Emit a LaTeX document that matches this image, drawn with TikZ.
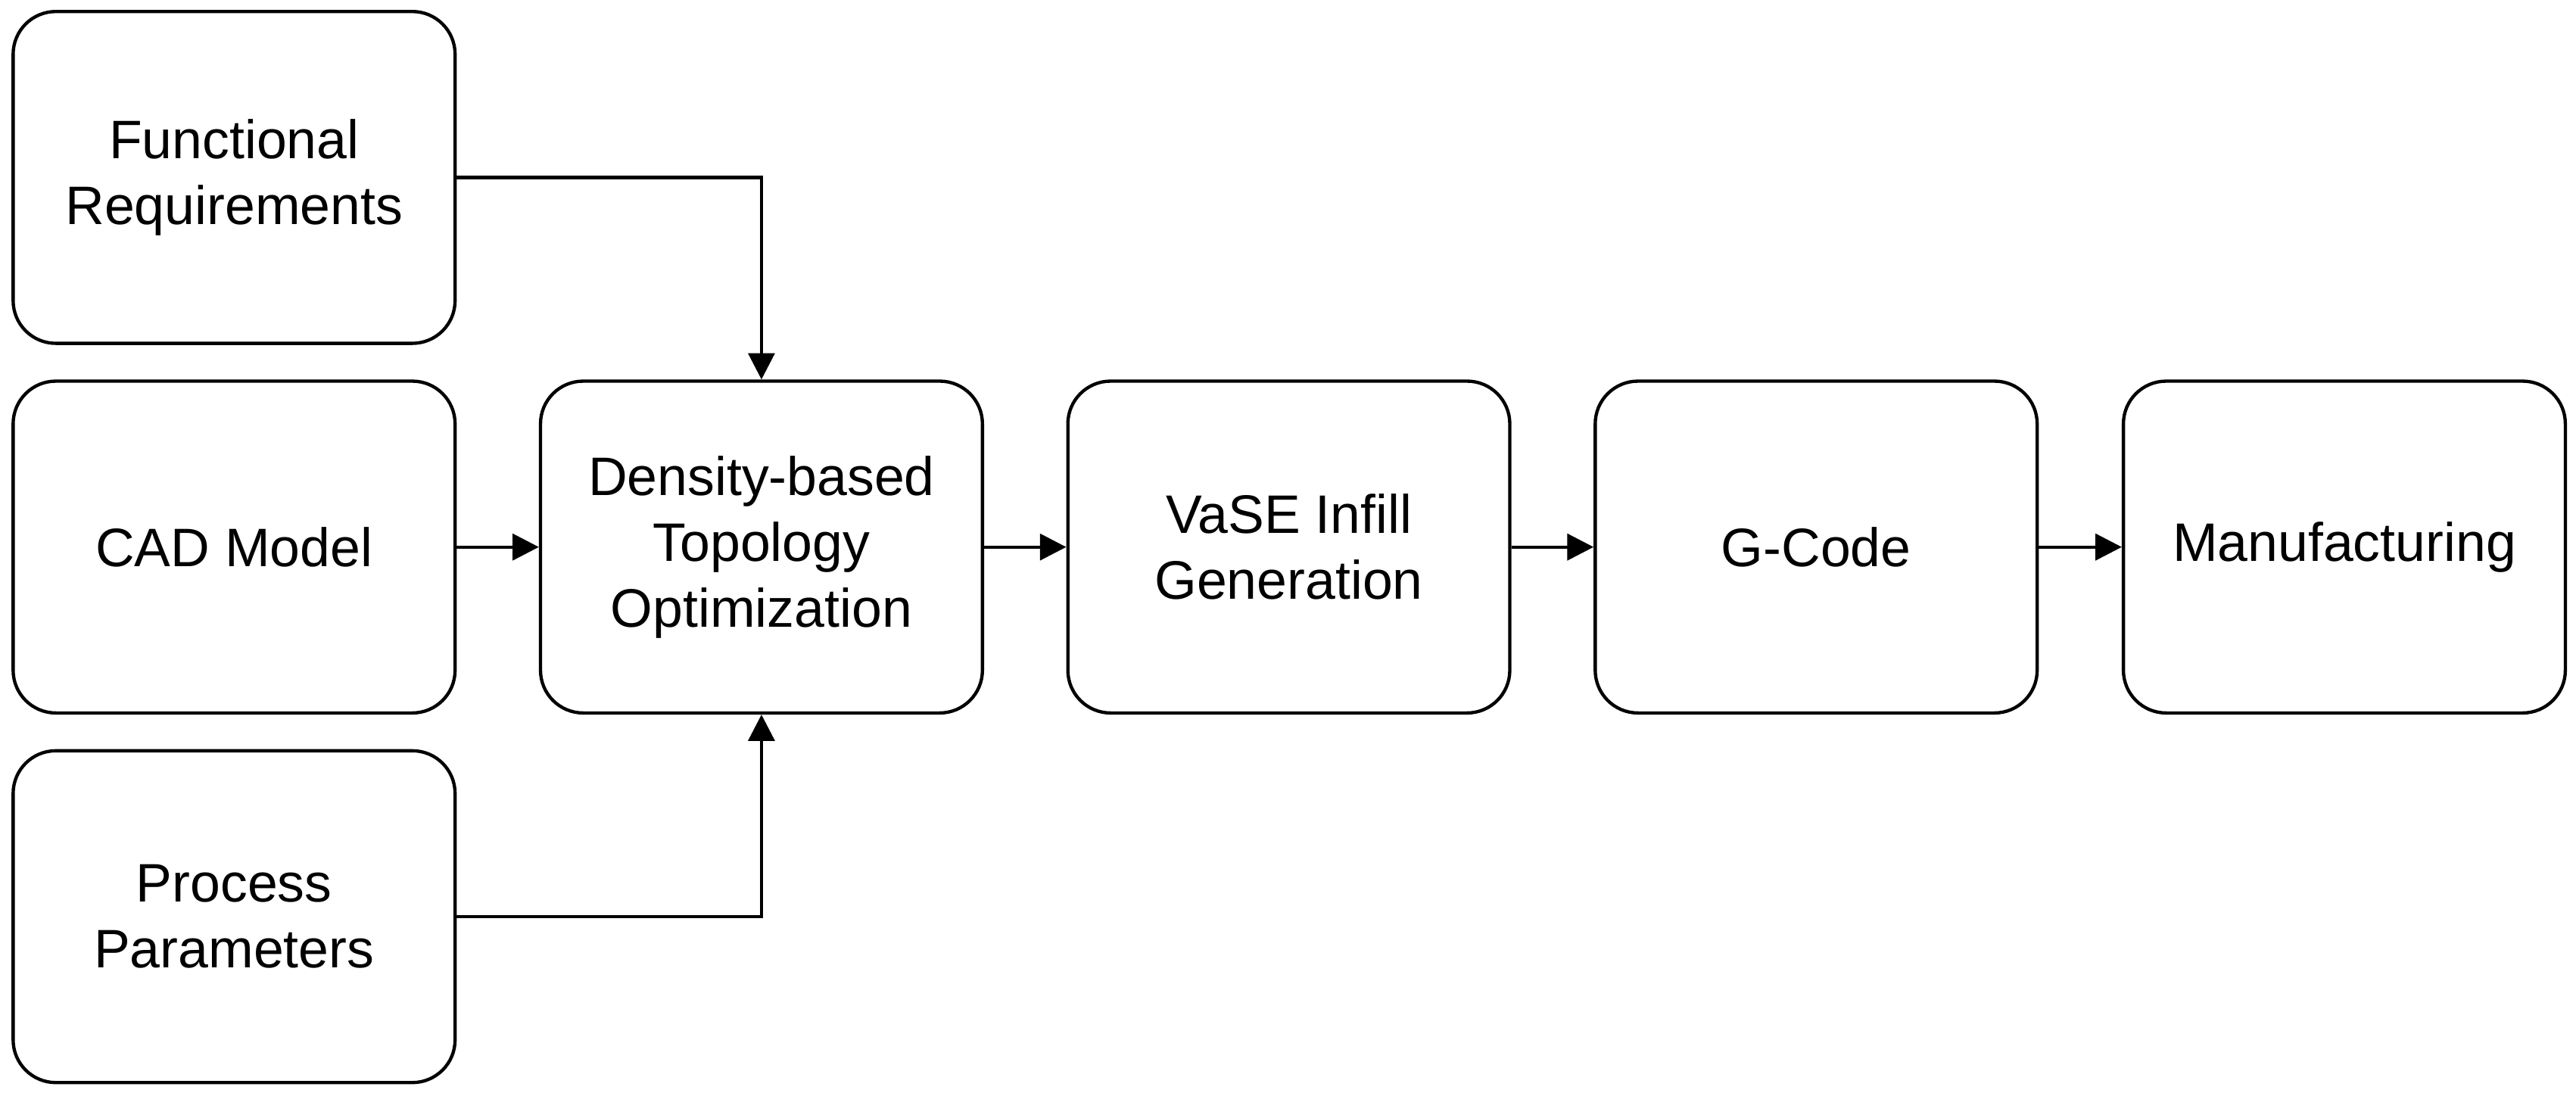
\documentclass[tikz,border=0pt]{standalone}
\usepackage{fontspec}
\setmainfont{Liberation Sans}
\usetikzlibrary{arrows.meta}
\begin{document}
\begin{tikzpicture}[x=0.5pt,y=-0.5pt,
  box/.style={draw,line width=1pt,rounded corners=13pt,minimum width=134.5pt,minimum height=101pt,align=center,font=\fontsize{16.5}{20}\selectfont,inner sep=0pt},
  arr/.style={line width=1pt,-{Triangle[length=8pt,width=8pt]}}]
\useasboundingbox (0,0) rectangle (1568,665);
\node[box] (fr) at (142.5,108) {Functional\\Requirements};
\node[box] (cad) at (142.5,333) {CAD Model};
\node[box] (pp) at (142.5,558) {Process\\Parameters};
\node[box] (dto) at (463.5,333) {Density-based\\Topology\\Optimization};
\node[box] (vase) at (784.5,333) {VaSE Infill\\Generation};
\node[box] (gc) at (1105.5,333) {G-Code};
\node[box] (man) at (1427,333) {Manufacturing};
\draw[arr] (fr.east) -| (dto.north);
\draw[arr] (pp.east) -| (dto.south);
\draw[arr] (cad) -- (dto);
\draw[arr] (dto) -- (vase);
\draw[arr] (vase) -- (gc);
\draw[arr] (gc) -- (man);
\end{tikzpicture}
\end{document}
